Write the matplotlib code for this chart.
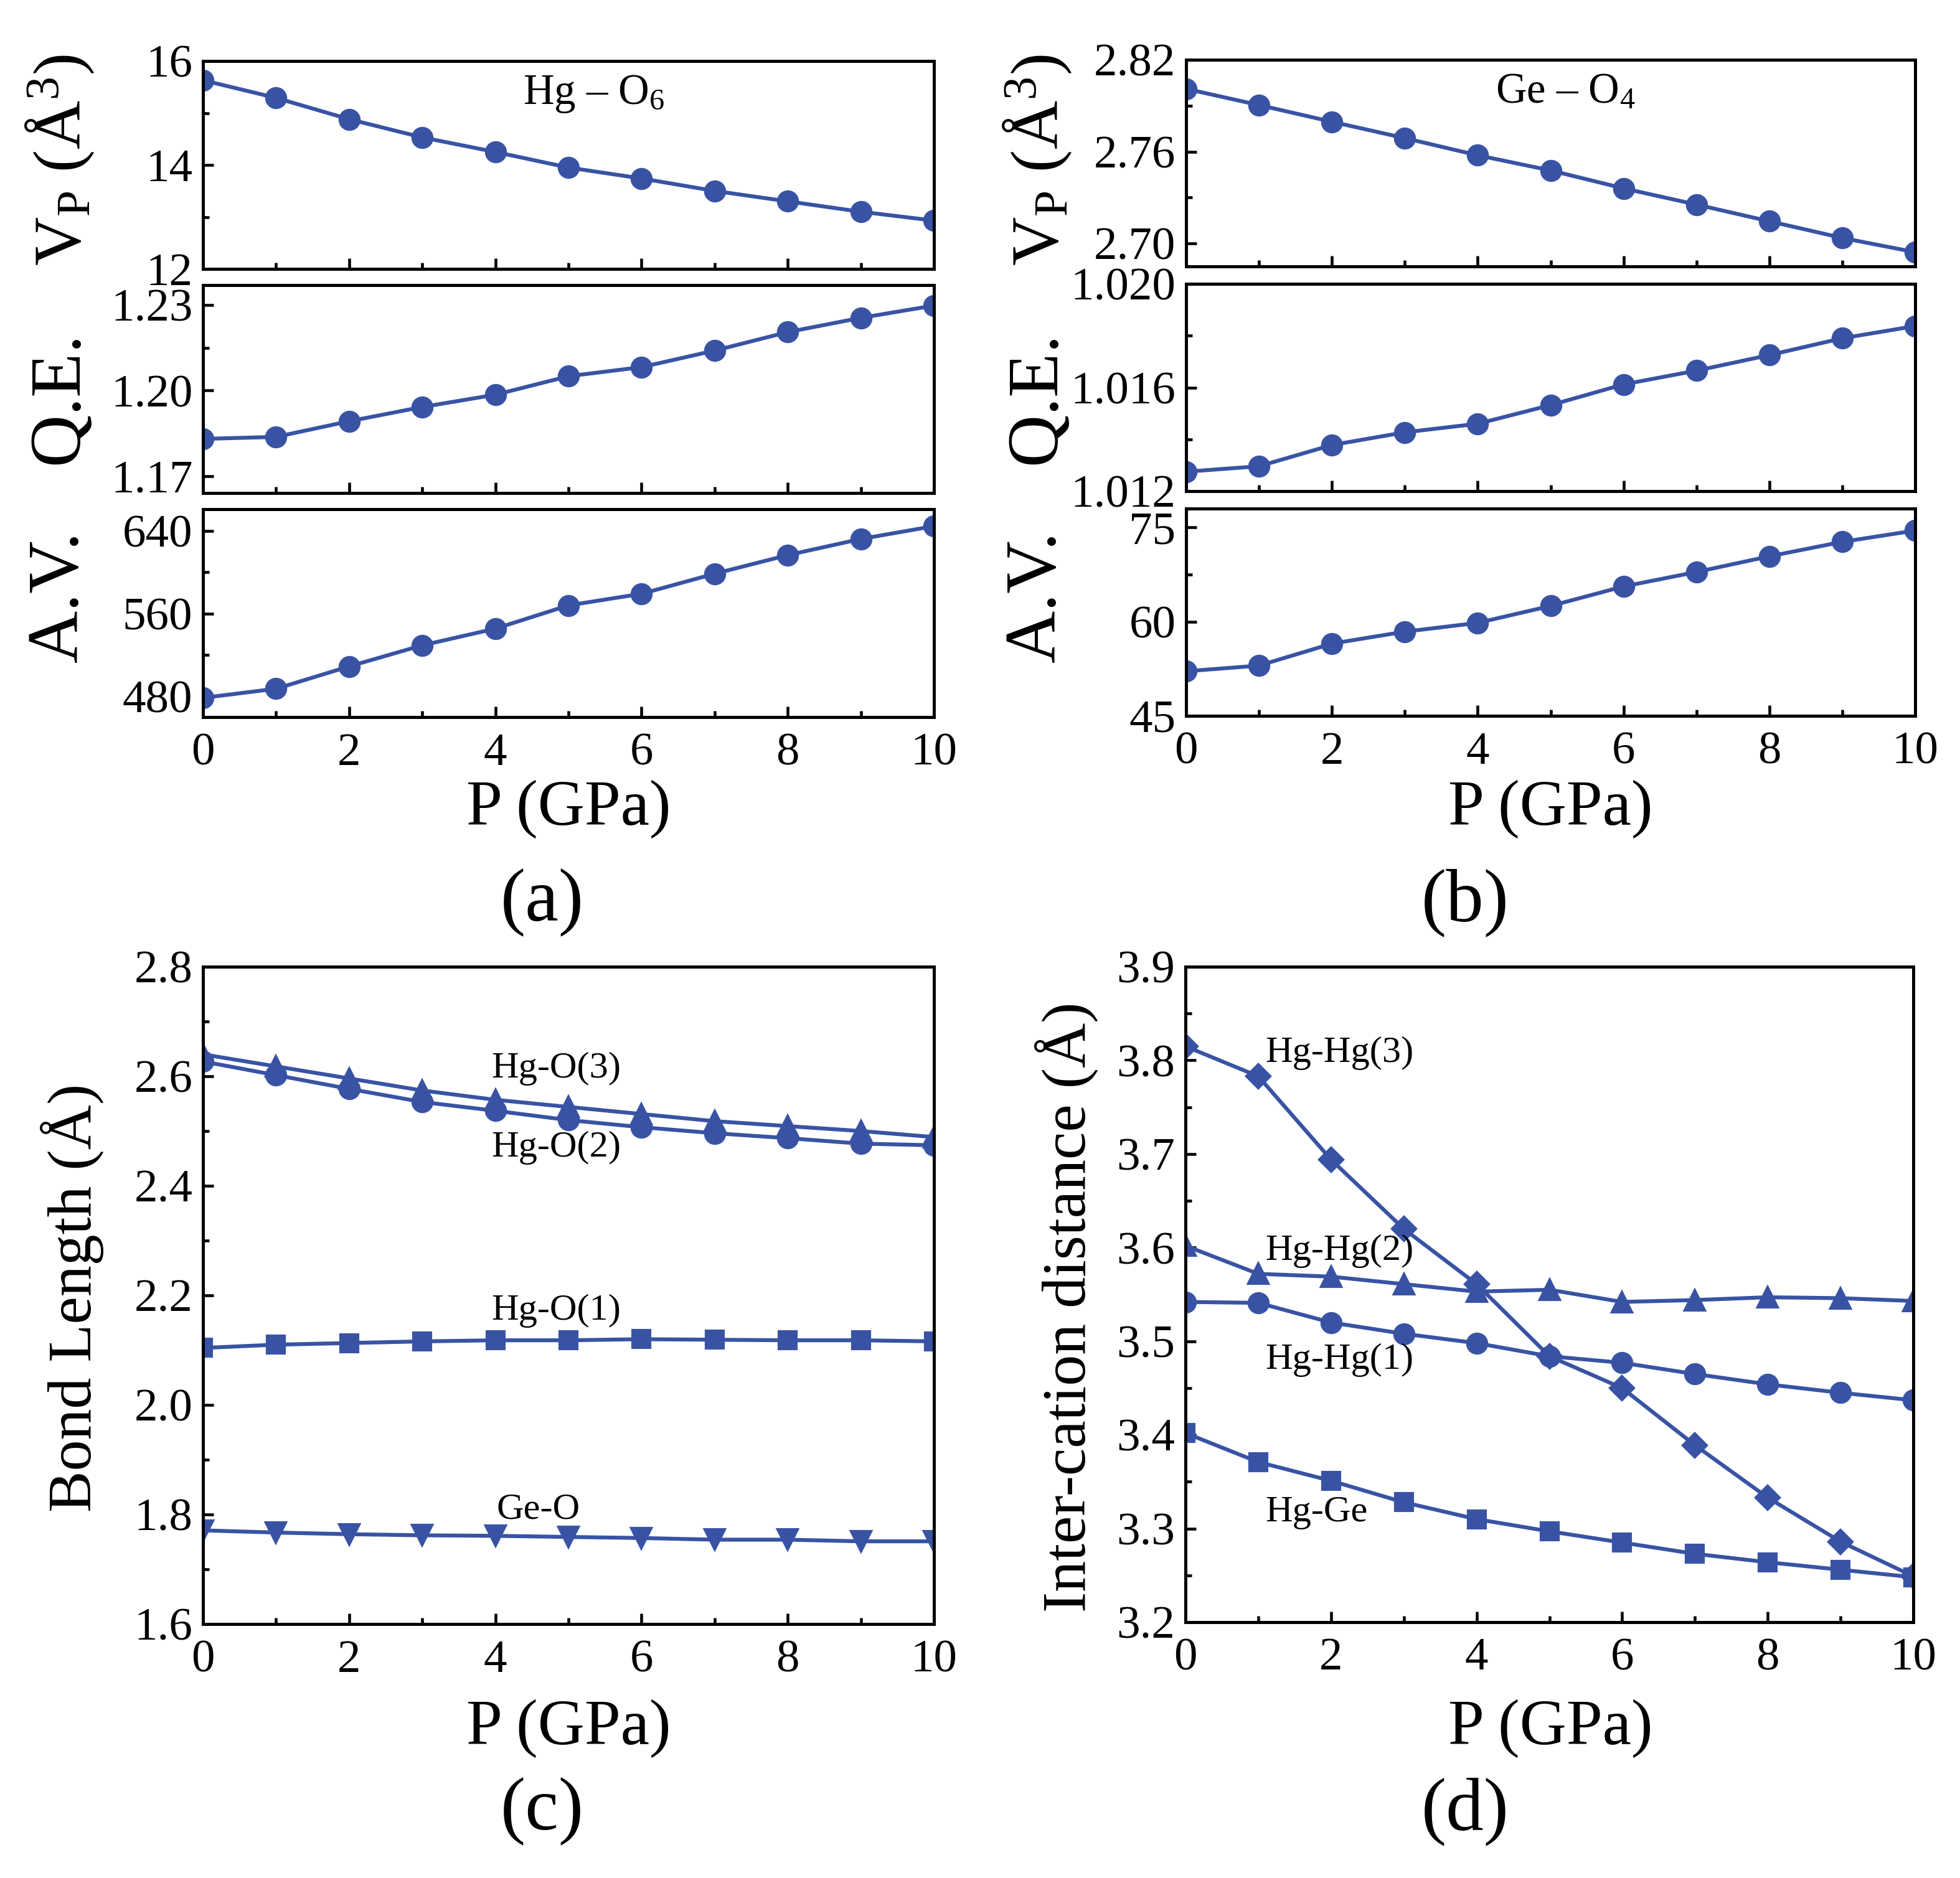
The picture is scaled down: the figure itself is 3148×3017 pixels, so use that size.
import matplotlib
matplotlib.use("Agg")
import matplotlib.pyplot as plt
from matplotlib.ticker import MultipleLocator, FormatStrFormatter

plt.rcParams['font.family'] = ['Liberation Serif', 'DejaVu Serif']
plt.rcParams['mathtext.fontset'] = 'custom'
plt.rcParams['mathtext.rm'] = 'Liberation Serif'
plt.rcParams['mathtext.it'] = 'Liberation Serif:italic'
plt.rcParams['mathtext.bf'] = 'Liberation Serif:bold'

# pressure (GPa)
P = [0, 1, 2, 3, 4, 5, 6, 7, 8, 9, 10]

# (a) Hg-O6 polyhedron
hg_vp = [15.63, 15.29, 14.88, 14.53, 14.25, 13.95, 13.74, 13.50, 13.30, 13.10, 12.93]
hg_qe = [1.1830, 1.1837, 1.1892, 1.1942, 1.1985, 1.2050, 1.2082, 1.2140, 1.2205, 1.2255, 1.2298]
hg_av = [478.6, 487.4, 509.0, 529.4, 545.5, 568.0, 579.2, 598.6, 616.6, 632.2, 644.6]

# (b) Ge-O4 polyhedron
ge_vp = [2.801, 2.7904, 2.7795, 2.7688, 2.7576, 2.7477, 2.7360, 2.7254, 2.7145, 2.7036, 2.6943]
ge_qe = [1.01275, 1.01296, 1.01378, 1.01427, 1.01460, 1.01532, 1.01612, 1.01665, 1.01725, 1.01790, 1.01837]
ge_av = [52.1, 53.0, 56.5, 58.4, 59.8, 62.5, 65.6, 67.9, 70.4, 72.7, 74.5]

# (c) bond lengths
hg_o3 = [2.640, 2.618, 2.596, 2.574, 2.557, 2.544, 2.531, 2.518, 2.509, 2.500, 2.489]
hg_o2 = [2.627, 2.602, 2.577, 2.553, 2.537, 2.520, 2.507, 2.496, 2.487, 2.477, 2.474]
hg_o1 = [2.104, 2.110, 2.113, 2.116, 2.118, 2.118, 2.120, 2.119, 2.118, 2.118, 2.116]
ge_o = [1.771, 1.767, 1.764, 1.762, 1.761, 1.759, 1.757, 1.754, 1.754, 1.751, 1.751]

# (d) inter-cation distances
hg_hg3 = [3.815, 3.783, 3.694, 3.620, 3.561, 3.484, 3.450, 3.389, 3.333, 3.286, 3.249]
hg_hg2 = [3.602, 3.572, 3.569, 3.561, 3.553, 3.555, 3.542, 3.544, 3.547, 3.546, 3.543]
hg_hg1 = [3.542, 3.541, 3.520, 3.508, 3.498, 3.484, 3.477, 3.465, 3.454, 3.445, 3.437]
hg_ge = [3.402, 3.371, 3.351, 3.328, 3.310, 3.297, 3.285, 3.273, 3.264, 3.256, 3.248]

blue = '#3953A4'
W, H = 3148, 3017
fig = plt.figure(figsize=(W / 300, H / 300), dpi=300)


def rect(x0, x1, y0, y1):
    # pixel box -> figure fraction
    return [x0 / W, 1 - y1 / H, (x1 - x0) / W, (y1 - y0) / H]


def style(ax, ylo, yhi, major, fmt, xlabels=True):
    ax.set_xlim(0, 10)
    ax.set_ylim(ylo, yhi)
    ax.xaxis.set_major_locator(MultipleLocator(2))
    ax.xaxis.set_minor_locator(MultipleLocator(1))
    ax.yaxis.set_major_locator(MultipleLocator(major))
    ax.yaxis.set_minor_locator(MultipleLocator(major / 2))
    ax.yaxis.set_major_formatter(FormatStrFormatter(fmt))
    ax.tick_params(which='both', direction='in', top=False, right=False, width=1.1)
    ax.tick_params(which='major', length=4, labelsize=18, pad=4)
    ax.tick_params(which='minor', length=2.3)
    ax.tick_params(axis='x', pad=6)
    if not xlabels:
        ax.tick_params(axis='x', labelbottom=False)
    for s in ax.spines.values():
        s.set_linewidth(1.2)


def line(ax, y, m, ms=7.5):
    ax.plot(P, y, color=blue, marker=m, markersize=ms, linewidth=1.5)


rows = [(98, 432), (458, 792), (818, 1152)]

# ---- (a)
a1 = fig.add_axes(rect(326, 1500, *rows[0]))
a2 = fig.add_axes(rect(326, 1500, *rows[1]))
a3 = fig.add_axes(rect(326, 1500, *rows[2]))
line(a1, hg_vp, 'o')
line(a2, hg_qe, 'o')
line(a3, hg_av, 'o')
style(a1, 12, 16, 2, '%d', False)
style(a2, 1.164, 1.237, 0.03, '%.2f', False)
style(a3, 460, 661, 80, '%d')
a1.text(5.35, 0.84, 'Hg – O$_6$', transform=a1.get_xaxis_transform(),
        ha='center', va='center', fontsize=16.5)

# ---- (b)
b1 = fig.add_axes(rect(1905, 3076, 96, 428))
b2 = fig.add_axes(rect(1905, 3076, 456, 789))
b3 = fig.add_axes(rect(1905, 3076, 817, 1150))
line(b1, ge_vp, 'o')
line(b2, ge_qe, 'o')
line(b3, ge_av, 'o')
style(b1, 2.685, 2.82, 0.06, '%.2f', False)
style(b2, 1.012, 1.020, 0.004, '%.3f', False)
style(b3, 45, 78, 15, '%d')
b1.text(5.2, 0.84, 'Ge – O$_4$', transform=b1.get_xaxis_transform(),
        ha='center', va='center', fontsize=16.5)

# y labels of the stacked panels
stack_labels = ['V$_\\mathrm{P}$ (Å$^3$)', 'Q.E.', 'A.V.']
for xl in (96, 1666):
    for yc, lab, fs in zip([257, 639, 958], stack_labels, [26, 28, 28]):
        fig.text(xl / W, 1 - yc / H, lab, rotation=90,
                 ha='center', va='center', fontsize=fs)

# ---- (c)
c = fig.add_axes(rect(326, 1500, 1553, 2609))
line(c, hg_o3, '^', 7.5)
line(c, hg_o2, 'o', 7.5)
line(c, hg_o1, 's', 6.8)
line(c, ge_o, 'v', 7.5)
style(c, 1.6, 2.8, 0.2, '%.1f')
for x, y, t in [(3.95, 2.614, 'Hg-O(3)'), (3.95, 2.469, 'Hg-O(2)'),
                (3.95, 2.172, 'Hg-O(1)'), (4.02, 1.809, 'Ge-O')]:
    c.text(x, y, t, ha='left', va='center', fontsize=14.5)
fig.text(116 / W, 1 - 2085 / H, 'Bond Length (Å)', rotation=90,
         ha='center', va='center', fontsize=24)

# ---- (d)
d = fig.add_axes(rect(1904, 3073, 1553, 2606))
line(d, hg_hg3, 'D', 6.6)
line(d, hg_hg2, '^', 7.5)
line(d, hg_hg1, 'o', 7.5)
line(d, hg_ge, 's', 6.8)
style(d, 3.2, 3.9, 0.1, '%.1f')
for x, y, t in [(1.1, 3.808, 'Hg-Hg(3)'), (1.1, 3.596, 'Hg-Hg(2)'),
                (1.1, 3.480, 'Hg-Hg(1)'), (1.1, 3.317, 'Hg-Ge')]:
    d.text(x, y, t, ha='left', va='center', fontsize=14.5)
fig.text(1713 / W, 1 - 2100 / H, 'Inter-cation distance (Å)', rotation=90,
         ha='center', va='center', fontsize=24)

# x labels and panel letters
for xc, yc in [(913, 1300), (2490, 1300), (913, 2777), (2490, 2777)]:
    fig.text(xc / W, 1 - yc / H, 'P (GPa)', ha='center', va='center', fontsize=25)
for xc, yc, t in [(871, 1450, '(a)'), (2353, 1450, '(b)'),
                  (871, 2910, '(c)'), (2353, 2910, '(d)')]:
    fig.text(xc / W, 1 - yc / H, t, ha='center', va='center', fontsize=29)

fig.savefig('out.png', dpi=300)
